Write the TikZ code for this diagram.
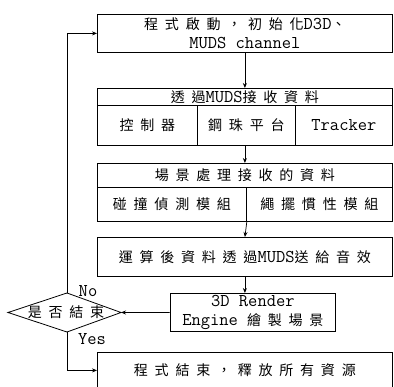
\documentclass[tikz,border=0pt]{standalone}
\usepackage{fontspec}
\newfontfamily\cjkf[LetterSpace=48,Scale=0.78]{Noto Sans CJK TC}
\newcommand\cj[1]{{\cjkf #1}}
\usetikzlibrary{arrows.meta}
\begin{document}
\begin{tikzpicture}[x=1pt,y=-1pt,
  box/.style={draw, line width=0.8pt, inner sep=0pt, anchor=north west, align=center, font=\fontsize{18}{19}\ttfamily\addfontfeature{LetterSpace=14}},
  lbl/.style={inner sep=0pt, font=\fontsize{18}{19}\ttfamily\addfontfeature{LetterSpace=14}},
  arr/.style={line width=0.7pt, -{Stealth[length=5pt,width=4pt]}},
  ln/.style={line width=0.7pt}]
\useasboundingbox (0,0) rectangle (394,387);
% box 1
\node[box, minimum width=295pt, minimum height=38pt] (b1) at (97,14)
  {\cj{程式啟動，初始化}D3D\cj{、}\\MUDS channel};
% box 2
\node[box, minimum width=295pt, minimum height=17pt] (b2h) at (97,88) {\cj{透過}MUDS\cj{接收資料}};
\node[box, minimum width=100pt, minimum height=40pt] (b2a) at (97,105) {\cj{控制器}};
\node[box, minimum width=98pt, minimum height=40pt] (b2b) at (197,105) {\cj{鋼珠平台}};
\node[box, minimum width=97pt, minimum height=40pt] (b2c) at (295,105) {Tracker};
% box 3
\node[box, minimum width=295pt, minimum height=24pt] (b3h) at (97,163) {\cj{場景處理接收的資料}};
\node[box, minimum width=149pt, minimum height=34pt] (b3a) at (97,187) {\cj{碰撞偵測模組}};
\node[box, minimum width=146pt, minimum height=34pt] (b3b) at (246,187) {\cj{繩擺慣性模組}};
% box 4
\node[box, minimum width=295pt, minimum height=39pt] (b4) at (97,237) {\cj{運算後資料透過}MUDS\cj{送給音效}};
% render box
\node[box, minimum width=165pt, minimum height=38pt] (rend) at (170,293) {3D Render\\Engine \cj{繪製場景}};
% box 5
\node[box, minimum width=295pt, minimum height=36pt] (b5) at (97,352) {\cj{程式結束，釋放所有資源}};
% diamond
\coordinate (dT) at (67,293);
\coordinate (dB) at (67,332);
\coordinate (dL) at (8,312.5);
\coordinate (dR) at (121,312.5);
\draw[line width=0.8pt] (dT) -- (dR) -- (dB) -- (dL) -- cycle;
\node[lbl] (dia) at (66,312.5) {\cj{是否結束}};
\node[lbl] (no) at (88,291) {No};
\node[lbl] (yes) at (92,339) {Yes};
% connectors
\draw[arr] (b1.south) -- (b2h.north);
\draw[arr] (b2b.south -| b2h.north) -- (b3h.north);
\draw[arr] (b3a.south east) -- (b4.north);
\draw[arr] (b4.south) -- (b4.south |- rend.north);
\draw[arr] (rend.west) -- (dR);
\draw[arr] (dT) |- (b1.west);
\draw[arr] (dB) |- (b5.west);
\end{tikzpicture}
\end{document}
